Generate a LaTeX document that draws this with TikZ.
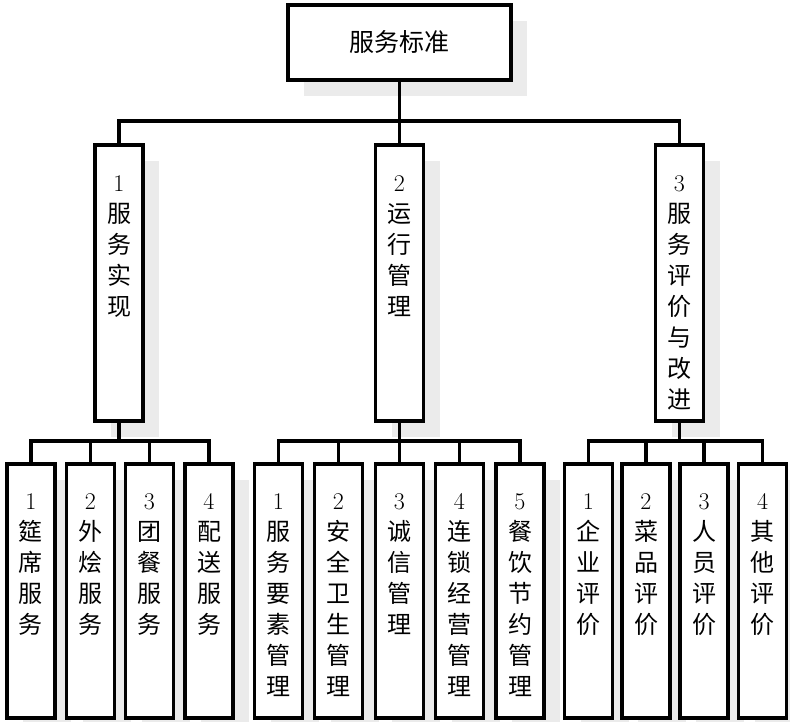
\documentclass[tikz,border=0pt]{standalone}
\usepackage{fontspec}
\newfontfamily\cjk{Noto Sans CJK SC}
\usetikzlibrary{shadows}
\definecolor{shadowgray}{HTML}{EBEBEB}
\tikzset{
  boxshape/.style={draw=black, line width=3.6pt, fill=white, inner sep=0pt, rectangle,
    drop shadow={shadow xshift=16pt, shadow yshift=-16pt, fill=shadowgray, opacity=1, draw=none}},
  topbox/.style={boxshape, minimum width=223pt, minimum height=75pt,
    font=\cjk\fontsize{25}{30}\selectfont},
  midbox/.style={boxshape, minimum width=48pt, minimum height=276pt},
  lowbox/.style={boxshape, minimum width=48pt, minimum height=254pt},
  vtext/.style={anchor=north, inner sep=0pt, align=center,
    font=\cjk\fontsize{24}{31}\selectfont},
  conn/.style={line width=3.6pt, line join=miter}
}
\newcommand\dg[1]{{\normalfont #1}}
\begin{document}
\begin{tikzpicture}[x=1pt,y=-1pt]
\useasboundingbox (0,0) rectangle (790,722);
% top
\node[topbox] (top) at (399.5,42.5) {服务标准};
% level 2
\node[midbox] (m1) at (119,283) {};
\node[midbox] (m2) at (399.5,283) {};
\node[midbox] (m3) at (679.5,283) {};
\node[vtext] (tm1) at ([yshift=-32pt]m1.north) {\dg{1}\\服\\务\\实\\现};
\node[vtext] (tm2) at ([yshift=-32pt]m2.north) {\dg{2}\\运\\行\\管\\理};
\node[vtext] (tm3) at ([yshift=-32pt]m3.north) {\dg{3}\\服\\务\\评\\价\\与\\改\\进};
% level 3 left
\node[lowbox] (a1) at (31,591) {};
\node[lowbox] (a2) at (90.5,591) {};
\node[lowbox] (a3) at (149.5,591) {};
\node[lowbox] (a4) at (209,591) {};
% level 3 middle
\node[lowbox] (b1) at (278.5,591) {};
\node[lowbox] (b2) at (338.5,591) {};
\node[lowbox] (b3) at (399.5,591) {};
\node[lowbox] (b4) at (459.5,591) {};
\node[lowbox] (b5) at (520,591) {};
% level 3 right
\node[lowbox] (c1) at (588.5,591) {};
\node[lowbox] (c2) at (646,591) {};
\node[lowbox] (c3) at (704,591) {};
\node[lowbox] (c4) at (762.5,591) {};
% texts level 3
\node[vtext] (ta1) at ([yshift=-31pt]a1.north) {\dg{1}\\筵\\席\\服\\务};
\node[vtext] (ta2) at ([yshift=-31pt]a2.north) {\dg{2}\\外\\烩\\服\\务};
\node[vtext] (ta3) at ([yshift=-31pt]a3.north) {\dg{3}\\团\\餐\\服\\务};
\node[vtext] (ta4) at ([yshift=-31pt]a4.north) {\dg{4}\\配\\送\\服\\务};
\node[vtext] (tb1) at ([yshift=-31pt]b1.north) {\dg{1}\\服\\务\\要\\素\\管\\理};
\node[vtext] (tb2) at ([yshift=-31pt]b2.north) {\dg{2}\\安\\全\\卫\\生\\管\\理};
\node[vtext] (tb3) at ([yshift=-31pt]b3.north) {\dg{3}\\诚\\信\\管\\理};
\node[vtext] (tb4) at ([yshift=-31pt]b4.north) {\dg{4}\\连\\锁\\经\\营\\管\\理};
\node[vtext] (tb5) at ([yshift=-31pt]b5.north) {\dg{5}\\餐\\饮\\节\\约\\管\\理};
\node[vtext] (tc1) at ([yshift=-31pt]c1.north) {\dg{1}\\企\\业\\评\\价};
\node[vtext] (tc2) at ([yshift=-31pt]c2.north) {\dg{2}\\菜\\品\\评\\价};
\node[vtext] (tc3) at ([yshift=-31pt]c3.north) {\dg{3}\\人\\员\\评\\价};
\node[vtext] (tc4) at ([yshift=-31pt]c4.north) {\dg{4}\\其\\他\\评\\价};
% buses
\coordinate (busT) at (399.5,121);
\coordinate (busA) at (119,441);
\coordinate (busB) at (399.5,441);
\coordinate (busC) at (679.5,441);
% connectors
\draw[conn] (top.south) -- (busT);
\draw[conn] (m1.north) |- (busT) -| (m3.north);
\draw[conn] (m2.north) -- (m2.north |- busT);
% left group
\draw[conn] (m1.south) -- (busA);
\draw[conn] (a1.north) |- (busA) -| (a4.north);
\draw[conn] (a2.north) -- (a2.north |- busA);
\draw[conn] (a3.north) -- (a3.north |- busA);
% middle group
\draw[conn] (m2.south) -- (busB);
\draw[conn] (b1.north) |- (busB) -| (b5.north);
\draw[conn] (b2.north) -- (b2.north |- busB);
\draw[conn] (b3.north) -- (b3.north |- busB);
\draw[conn] (b4.north) -- (b4.north |- busB);
% right group
\draw[conn] (m3.south) -- (busC);
\draw[conn] (c1.north) |- (busC) -| (c4.north);
\draw[conn] (c2.north) -- (c2.north |- busC);
\draw[conn] (c3.north) -- (c3.north |- busC);
\end{tikzpicture}
\end{document}
